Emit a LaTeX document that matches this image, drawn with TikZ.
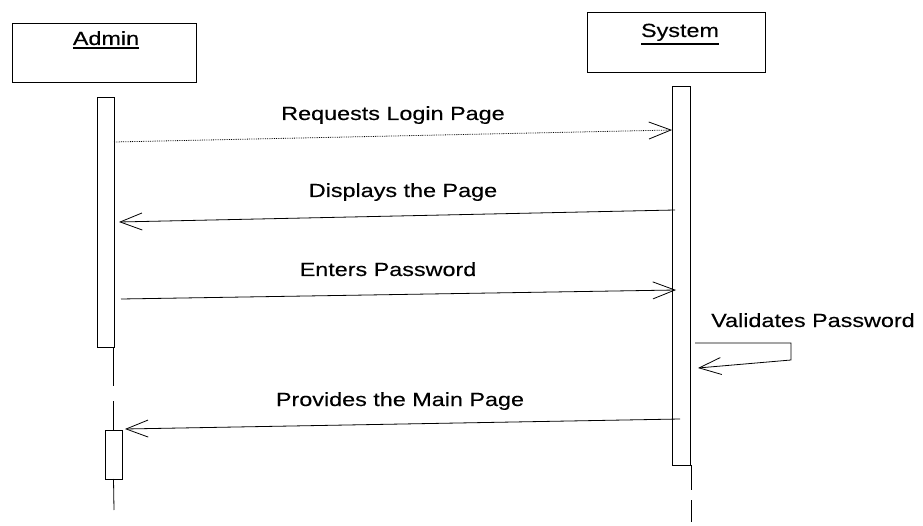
\documentclass[tikz,border=0pt]{standalone}
\usepackage{fontspec}
\setmainfont{Liberation Sans}[FakeStretch=1.23,FakeBold=0.3]
\usetikzlibrary{arrows.meta}
% participant name with a heavy underline
\newcommand\headname[1]{\vtop{\hbox{#1}\kern2.2pt\hrule height 1.5pt}}
\begin{document}
\begin{tikzpicture}[x=1pt,y=-1pt,
  font=\fontsize{19}{21}\selectfont,
  every node/.style={inner sep=0pt, outer sep=0pt},
  lifebox/.style={draw, line width=0.8pt, anchor=north west},
  actbar/.style={draw, line width=0.7pt, fill=white, anchor=north west},
  msg/.style={line width=0.8pt, -{Straight Barb[length=22pt,width=17pt]}},
  lifeline/.style={line width=0.8pt, dash pattern=on 39pt off 15pt},
  lbl/.style={anchor=base}]
\useasboundingbox (0,0) rectangle (923,526);

% participant heads
\node[lifebox, minimum width=184pt, minimum height=59pt] (admin) at (12,23) {};
\node[lifebox, minimum width=178pt, minimum height=60pt] (system) at (587,12) {};
\node[lbl] (adminname) at (106,45) {\headname{Admin}};
\node[lbl] (systemname) at (680,37) {\headname{System}};

% activation bars
\node[actbar, minimum width=17pt, minimum height=250pt] (adminact) at (97,97) {};
\node[actbar, minimum width=17pt, minimum height=49pt] (adminact2) at (105,430) {};
\node[actbar, minimum width=18pt, minimum height=379pt] (sysact) at (672,86) {};

% lifelines
\coordinate (adminend) at (114,510);
\coordinate (sysend) at (691,522);
\draw[lifeline] (adminact2.north |- adminact.south) -- (adminact2.north);
\draw[lifeline] (adminact2.south) -- (adminend);
\draw[lifeline, dash pattern=on 25pt off 10pt] (sysend |- sysact.south) -- (sysend);

% message end points
\coordinate (m1s) at (114,142); \coordinate (m1e) at (672,130);
\coordinate (m2s) at (675,210); \coordinate (m2e) at (119,222);
\coordinate (m3s) at (121,299); \coordinate (m3e) at (676,290);
\coordinate (s1) at (695,343); \coordinate (s2) at (791,343);
\coordinate (s3) at (791,360); \coordinate (s4) at (698,368);
\coordinate (m5s) at (680,419); \coordinate (m5e) at (125,429);

% messages
\draw[msg, densely dotted] (m1s) -- (m1e);
\draw[msg] (m2s) -- (m2e);
\draw[msg] (m3s) -- (m3e);
\draw[msg] (s1) -- (s2) -- (s3) -- (s4);
\draw[msg] (m5s) -- (m5e);

% message labels
\node[lbl] (l1) at (393,120) {Requests Login Page};
\node[lbl] (l2) at (403,197) {Displays the Page};
\node[lbl] (l3) at (388,276) {Enters Password};
\node[lbl] (l4) at (813,327) {Validates Password};
\node[lbl] (l5) at (400,406) {Provides the Main Page};
\end{tikzpicture}
\end{document}
